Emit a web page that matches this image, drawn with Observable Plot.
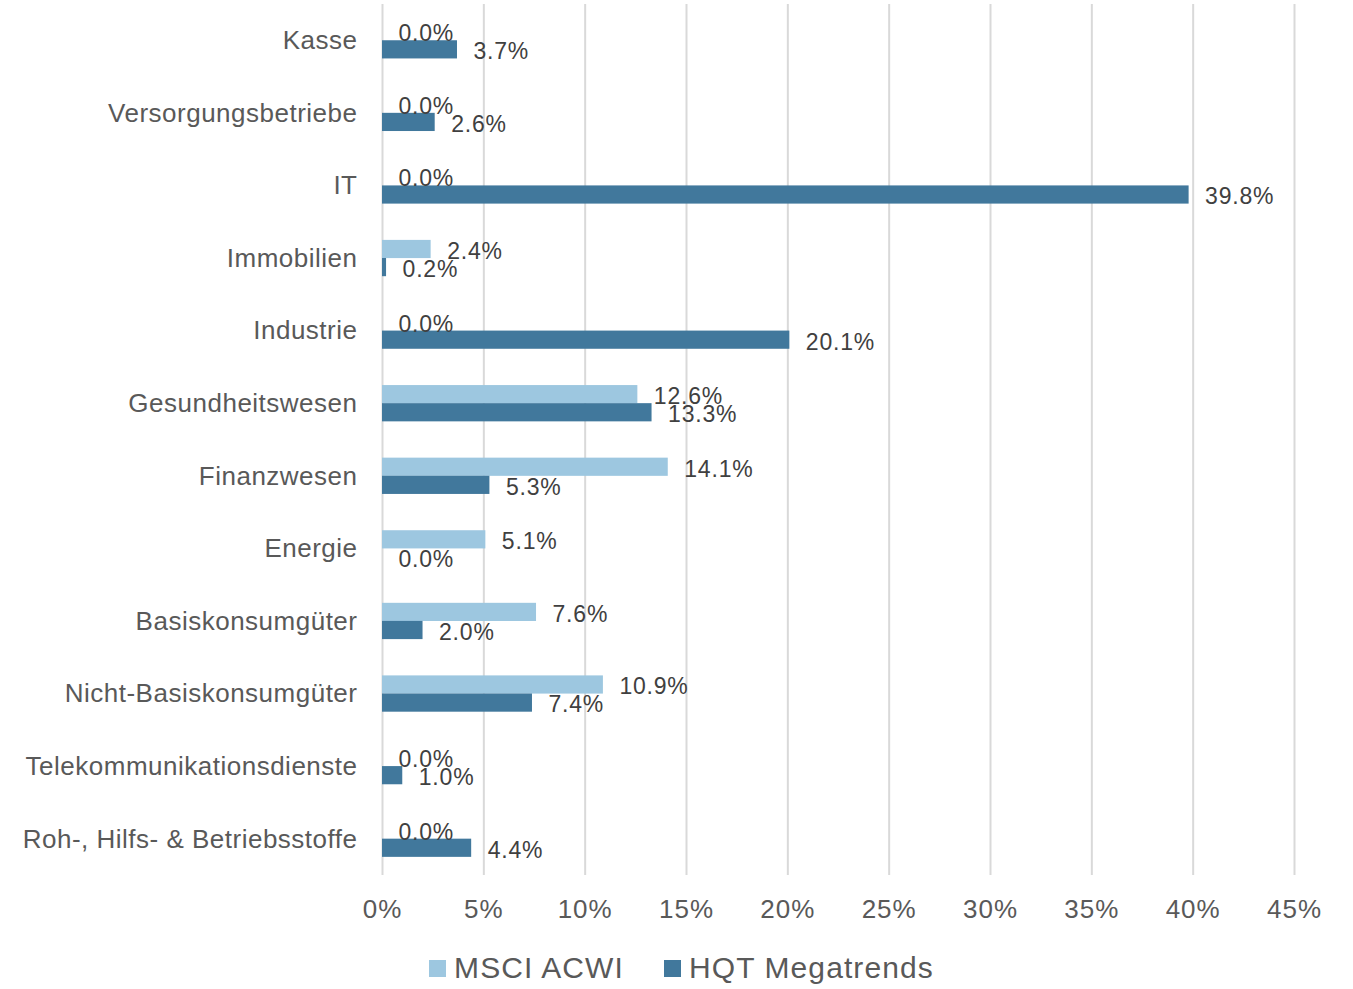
<!DOCTYPE html>
<html>
<head>
<meta charset="utf-8">
<script src="https://cdn.jsdelivr.net/npm/d3@7"></script>
<script src="https://cdn.jsdelivr.net/npm/@observablehq/plot@0.6"></script>
<style>
  body { margin: 0; background: #fff; font-family: "Liberation Sans", Arial, sans-serif; color: #595959; }
  #legend { display: flex; justify-content: center; align-items: center; gap: 40px; font-size: 30px; letter-spacing: 1.1px; margin-top: 16px; padding-left: 10px; }
  .item { display: flex; align-items: center; gap: 8px; }
  .sw { width: 17px; height: 17px; display: inline-block; }
  g[aria-label="y-axis tick label"] text { font-size: 26px; letter-spacing: 0.5px; }
  g[aria-label="x-axis tick label"] text { font-size: 26px; letter-spacing: 1px; }
  g[aria-label="text"] text { letter-spacing: 0.8px; }
</style>
</head>
<body>
<div id="chart"></div>
<div id="legend"></div>
<script>
const categories = [
  "Kasse", "Versorgungsbetriebe", "IT", "Immobilien", "Industrie", "Gesundheitswesen",
  "Finanzwesen", "Energie", "Basiskonsumgüter", "Nicht-Basiskonsumgüter",
  "Telekommunikationsdienste", "Roh-, Hilfs- & Betriebsstoffe"
];
const msciValues = [0.0, 0.0, 0.0, 2.4, 0.0, 12.6, 14.1, 5.1, 7.6, 10.9, 0.0, 0.0];
const hqtValues  = [3.7, 2.6, 39.8, 0.2, 20.1, 13.3, 5.3, 0.0, 2.0, 7.4, 1.0, 4.4];
const seriesNames = ["MSCI ACWI", "HQT Megatrends"];
const seriesColors = ["#9dc7e0", "#41789c"];
const xTicks = [0, 5, 10, 15, 20, 25, 30, 35, 40, 45];

const msciRows = categories.map((c, i) => ({category: c, series: seriesNames[0], value: msciValues[i]}));
const hqtRows = categories.map((c, i) => ({category: c, series: seriesNames[1], value: hqtValues[i]}));
const fmt = v => v.toFixed(1) + "%";

const chart = Plot.plot({
  width: 1353,
  height: 935,
  marginTop: 4,
  marginBottom: 60,
  marginLeft: 382,
  marginRight: 59,
  style: {fontSize: "24px", fontFamily: "Liberation Sans, Arial, sans-serif", color: "#595959", background: "#fff"},
  x: {domain: [0, 45], ticks: xTicks, tickFormat: d => d + "%", label: null},
  y: {domain: categories, paddingInner: 0.5, paddingOuter: 0.25, round: false, label: null},
  marks: [
    Plot.gridX(xTicks, {stroke: "#d9d9d9", strokeWidth: 2, strokeOpacity: 1}),
    Plot.barX(msciRows, {x: "value", y: "category", fill: seriesColors[0], insetBottom: 18.1}),
    Plot.barX(hqtRows, {x: "value", y: "category", fill: seriesColors[1], insetTop: 18.1}),
    Plot.text(msciRows, {x: "value", y: "category", text: d => fmt(d.value), dx: 16, dy: -7, textAnchor: "start", fontSize: 23, fill: "#404040"}),
    Plot.text(hqtRows, {x: "value", y: "category", text: d => fmt(d.value), dx: 16, dy: 11, textAnchor: "start", fontSize: 23, fill: "#404040"}),
    Plot.axisY({tickSize: 0, tickPadding: 25, label: null}),
    Plot.axisX({tickSize: 0, tickPadding: 24, label: null, tickFormat: d => d + "%"})
  ]
});
document.getElementById("chart").appendChild(chart);

const legend = document.getElementById("legend");
seriesNames.forEach((name, i) => {
  const item = document.createElement("div");
  item.className = "item";
  const sw = document.createElement("span");
  sw.className = "sw";
  sw.style.background = seriesColors[i];
  const label = document.createElement("span");
  label.textContent = name;
  item.appendChild(sw);
  item.appendChild(label);
  legend.appendChild(item);
});
</script>
</body>
</html>
